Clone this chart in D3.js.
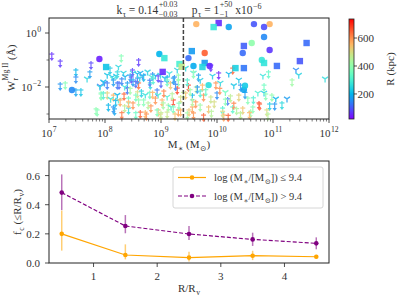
<!DOCTYPE html>
<html lang="en">
<head>
<meta charset="UTF-8">
<script src="https://d3js.org/d3.v7.min.js"></script>
<style>
  body { margin: 0; background: #fff; }
  text { font-family: "Liberation Serif", "DejaVu Serif", serif; fill: #333; white-space: pre; }
</style>
</head>
<body>
<svg width="399" height="299"></svg>
<script>
// detections: log stellar mass, log W, R (kpc), shape (c = circle, s = square)
const detM = [7.90, 8.02, 7.41, 8.97, 9.06, 9.03, 9.33, 9.37, 9.49, 9.63, 9.55, 10.03, 9.94, 10.21, 10.66, 10.94, 10.84, 10.84,
  10.48, 10.62, 10.46, 10.94, 11.60, 11.48, 11.07, 10.80, 10.84, 9.78, 9.78, 9.87, 9.74, 10.33, 10.48, 10.48, 9.58, 9.85, 10.50];
const detW = [-0.96, -1.26, -2.11, -0.78, -0.93, -1.44, -1.15, -1.25, -0.93, 0.33, -0.67, 0.37, 0.22, 0.22, 0.33, 0.33, 0.22, -0.15,
  -0.48, -0.37, -0.74, -0.63, -0.37, -1.04, -1.22, -1.00, -1.11, -0.74, -1.11, -1.22, -1.26, -1.30, -1.30, -2.10, -1.22, -1.93, -1.95];
const detR = [50, 220, 150, 200, 280, 60, 300, 480, 120, 560, 170, 60, 280, 180, 100, 560, 90, 150,
  110, 400, 120, 70, 120, 100, 120, 280, 270, 650, 170, 60, 250, 240, 130, 180, 190, 260, 230];
const detShape = ['c', 's', 'c', 'c', 's', 's', 's', 's', 'c', 'c', 's', 's', 's', 'c', 'c', 'c', 'c', 'c',
  's', 'c', 'c', 'c', 's', 's', 's', 'c', 's', 'c', 's', 'c', 's', 's', 's', 'c', 'c', 'c', 'c'];

// upper limits: a = arrow, y = tri marker
const limM = [8.24, 8.20, 7.99, 8.22, 8.25, 8.40, 8.13, 8.47, 8.50, 8.58, 8.60, 8.67, 8.85, 8.90, 8.95, 9.11, 9.29, 9.24, 9.31,
  7.93, 8.04, 8.15, 8.34, 8.24, 8.42, 8.50, 8.60, 8.72, 8.77, 8.90, 9.02, 9.22, 9.35, 8.17, 8.42, 8.72, 8.95, 9.11, 9.31, 7.86, 8.06,
  8.63, 8.74, 8.99, 9.13, 9.18, 8.60, 8.29,
  7.05, 7.20, 7.75, 7.48, 7.48, 7.68, 7.73, 7.20, 7.29, 7.48, 7.57, 7.84, 7.93, 7.91, 7.97, 8.15, 8.15, 8.19,
  9.89, 10.03, 10.28, 10.21, 9.58, 9.67, 9.92, 9.49, 9.63, 9.74, 9.98, 10.06, 10.39, 10.42, 10.73, 10.84, 10.84,
  9.44, 9.56, 9.76, 9.89, 10.00, 10.19, 10.24, 10.39, 10.55, 10.75, 9.56, 9.70, 9.85, 10.10, 10.28, 10.46, 10.64,
  9.58, 9.76, 10.12, 10.42,
  11.41, 10.82, 10.92, 11.46, 11.34, 11.93, 10.87, 10.98, 11.05, 11.03, 11.25, 11.16, 10.94, 10.89, 10.91, 10.76,
  9.44, 9.58, 9.47, 9.65, 9.56, 9.35, 9.47, 9.22, 9.29, 9.17, 9.11, 9.04, 8.93, 8.93, 8.81, 8.76, 8.63, 8.50, 8.40,
  8.58, 8.69, 8.42, 8.27, 8.22, 8.15, 8.04, 8.09, 8.22, 8.33, 8.49, 8.45, 8.58, 8.69, 8.86, 8.99, 9.11, 9.22, 9.31,
  7.91, 8.04, 7.97, 10.10, 10.30, 10.60, 10.15, 9.70, 9.40, 8.80, 8.35,
  8.30, 8.36, 8.55, 8.62, 8.80, 8.83, 9.00, 9.07, 9.15, 9.26, 8.45, 8.55, 8.65, 8.85, 8.95, 9.05, 9.20, 9.32, 8.35, 8.55,
  8.82, 9.00, 9.25, 8.10, 8.30, 9.52, 9.62, 9.70, 9.80, 9.95, 10.05, 10.15, 10.30, 10.35, 10.50, 10.58, 10.65, 9.50, 9.90, 10.20];
const limW = [-1.26, -1.59, -1.85, -1.85, -1.85, -1.85, -1.63, -1.63, -1.48, -1.52, -1.85, -1.59, -1.52, -1.59, -1.59, -1.63, -1.37, -1.63, -1.74,
  -2.22, -2.22, -2.30, -2.26, -2.48, -2.41, -2.59, -2.48, -2.30, -2.59, -2.41, -2.48, -2.48, -2.37, -2.81, -2.78, -2.93, -2.85, -2.93, -2.85, -2.85, -2.67,
  -2.93, -3.00, -3.00, -2.67, -2.75, -1.00, -0.85,
  -0.78, -1.04, -1.11, -1.37, -1.63, -1.70, -1.44, -1.89, -1.85, -2.11, -2.11, -2.81, -2.26, -1.96, -1.81, -1.70, -2.74, -2.50,
  -1.19, -1.48, -1.30, -1.52, -1.48, -1.56, -1.59, -1.93, -2.00, -1.93, -1.85, -1.85, -1.74, -1.93, -2.22, -2.22, -1.93,
  -2.22, -2.30, -2.30, -2.37, -2.22, -2.44, -2.33, -2.30, -2.41, -2.59, -2.74, -2.67, -2.74, -2.78, -2.74, -2.78, -2.74,
  -2.96, -3.04, -3.04, -2.96,
  -1.37, -1.59, -1.44, -1.56, -1.74, -1.70, -2.26, -2.30, -2.44, -2.63, -2.44, -2.59, -2.63, -2.85, -3.00, -2.63,
  -1.30, -1.44, -1.74, -2.00, -2.48, -2.85, -2.96, -2.74, -2.04, -1.85, -2.37, -2.59, -2.85, -2.11, -1.85, -1.44, -1.48, -1.74, -2.04,
  -2.18, -2.48, -2.55, -2.48, -2.30, -1.74, -1.56, -1.30, -1.44, -1.48, -1.37, -1.56, -1.67, -1.56, -1.67, -1.56, -1.74, -1.67, -1.56,
  -2.00, -1.85, -2.22, -2.90, -2.60, -2.90, -2.20, -2.15, -2.20, -2.20, -2.00,
  -1.70, -1.62, -1.80, -1.68, -1.75, -1.62, -1.80, -1.68, -1.50, -1.90, -2.05, -2.30, -2.15, -2.20, -2.30, -2.15, -2.25, -2.60, -2.70, -2.95,
  -2.70, -2.95, -3.00, -2.45, -2.95, -2.10, -2.55, -1.75, -2.10, -2.55, -2.05, -2.45, -1.95, -2.80, -2.20, -2.95, -2.40, -2.85, -2.90, -3.05];
const limR = [250, 230, 150, 130, 110, 170, 220, 80, 260, 200, 640, 120, 150, 200, 70, 180, 240, 150, 400,
  380, 520, 560, 650, 300, 330, 600, 400, 270, 450, 600, 560, 680, 500, 180, 260, 560, 550, 480, 600, 380, 200,
  650, 600, 520, 420, 280, 70, 380,
  60, 70, 80, 200, 150, 250, 170, 160, 380, 180, 220, 390, 380, 130, 200, 270, 160, 200,
  60, 50, 650, 200, 260, 170, 230, 680, 450, 560, 600, 250, 220, 160, 300, 230, 350,
  550, 200, 600, 480, 150, 120, 460, 520, 380, 680, 580, 420, 540, 300, 320, 540, 380,
  600, 650, 580, 460,
  150, 270, 330, 240, 420, 260, 380, 400, 200, 160, 170, 250, 230, 500, 450, 660,
  250, 380, 300, 160, 450, 560, 420, 360, 680, 540, 300, 430, 370, 130, 250, 240, 190, 170, 120,
  500, 380, 560, 580, 200, 170, 220, 230, 250, 240, 80, 160, 150, 200, 300, 250, 350, 170, 400,
  230, 130, 300, 500, 620, 420, 350, 300, 470, 330, 280,
  140, 190, 110, 230, 130, 280, 100, 210, 260, 140, 420, 360, 240, 560, 300, 620, 450, 380, 470, 340,
  600, 470, 540, 280, 630, 420, 600, 230, 330, 500, 610, 380, 220, 440, 170, 560, 300, 530, 450, 650];
const limShape = ['y', 'y', 'y', 'a', 'a', 'a', 'y', 'a', 'y', 'y', 'a', 'y', 'a', 'y', 'a', 'a', 'y', 'a', 'a',
  'a', 'a', 'a', 'a', 'y', 'a', 'a', 'a', 'y', 'a', 'a', 'a', 'a', 'a', 'a', 'a', 'a', 'a', 'a', 'a', 'a', 'a',
  'a', 'a', 'a', 'a', 'y', 'a', 'a',
  'a', 'a', 'a', 'a', 'a', 'y', 'a', 'a', 'a', 'a', 'a', 'a', 'a', 'y', 'y', 'y', 'a', 'a',
  'a', 'a', 'a', 'y', 'y', 'a', 'y', 'a', 'a', 'a', 'a', 'y', 'y', 'a', 'y', 'y', 'a',
  'a', 'a', 'a', 'a', 'a', 'a', 'a', 'a', 'a', 'a', 'a', 'a', 'a', 'a', 'a', 'a', 'a',
  'a', 'a', 'a', 'a',
  'y', 'y', 'a', 'y', 'a', 'y', 'a', 'a', 'y', 'a', 'y', 'a', 'a', 'a', 'a', 'a',
  'y', 'a', 'a', 'a', 'a', 'a', 'a', 'a', 'a', 'a', 'y', 'a', 'a', 'a', 'a', 'y', 'y', 'a', 'a',
  'a', 'a', 'a', 'a', 'y', 'a', 'y', 'a', 'a', 'y', 'a', 'a', 'a', 'a', 'a', 'y', 'a', 'a', 'a',
  'y', 'a', 'a', 'a', 'a', 'a', 'y', 'a', 'a', 'a', 'y',
  'a', 'y', 'a', 'y', 'a', 'y', 'a', 'y', 'y', 'a', 'a', 'a', 'a', 'a', 'y', 'a', 'a', 'a', 'a', 'a',
  'a', 'a', 'a', 'y', 'a', 'a', 'a', 'y', 'a', 'a', 'a', 'a', 'y', 'a', 'a', 'a', 'a', 'a', 'a', 'a'];

const xTicksTop = [7, 8, 9, 10, 11, 12];
const yTicksTop = [0, -2];
const cbTicks = [200, 400, 600];
const massCut = 9.4;

// covering fraction panel
const rBins = [0.5, 1.5, 2.5, 3.5, 4.5];
const fLow = [0.20, 0.055, 0.037, 0.050, 0.043];
const fLowLo = [0.085, 0.025, 0.010, 0.020, 0.030];
const fLowHi = [0.36, 0.128, 0.078, 0.084, 0.056];
const fHigh = [0.483, 0.254, 0.199, 0.162, 0.135];
const fHighLo = [0.363, 0.204, 0.158, 0.117, 0.094];
const fHighHi = [0.608, 0.329, 0.254, 0.208, 0.176];
const xTicksBot = [1, 2, 3, 4];
const yTicksBot = [0, 0.2, 0.4, 0.6];

const svg = d3.select('svg');
const ink = '#222';

// matplotlib "rainbow"
function rainbow(t) {
  const r = Math.min(1, Math.abs(2 * t - 0.5)), g = Math.sin(Math.PI * t), b = Math.cos(Math.PI * t / 2);
  return d3.rgb(r * 255, Math.max(0, g) * 255, Math.max(0, b) * 255).formatHex();
}
const cNorm = d3.scaleLinear().domain([21, 736]).range([0, 1]).clamp(true);
const color = v => rainbow(cNorm(v));

// text with sub/superscripts
function rich(parent, x, y, parts, o = {}) {
  const size = o.size || 10, anchor = o.anchor || 'start';
  const g = parent.append('g').attr('transform', `translate(${x},${y}) rotate(${o.rotate || 0})`);
  const inner = g.append('g');
  let cx = 0;
  parts.forEach(p => {
    if (typeof p === 'string') p = { t: p };
    if (p.sup !== undefined || p.sub !== undefined) {
      const both = p.sup !== undefined && p.sub !== undefined;
      let w = 0;
      if (p.sup !== undefined) {
        const t = inner.append('text').attr('x', cx + 0.5).attr('y', -size * (both ? 0.62 : 0.45))
          .attr('font-size', size * 0.7).text(p.sup);
        w = Math.max(w, t.node().getComputedTextLength() + 0.5);
      }
      if (p.sub !== undefined) {
        const t = inner.append('text').attr('x', cx + 0.5).attr('y', size * 0.3).attr('font-size', size * 0.7).text(p.sub);
        w = Math.max(w, t.node().getComputedTextLength() + 0.5);
      }
      cx += w;
    } else {
      const t = inner.append('text').attr('x', cx).attr('font-size', size).text(p.t);
      cx += t.node().getComputedTextLength();
    }
  });
  const dx = anchor === 'middle' ? -cx / 2 : anchor === 'end' ? -cx : 0;
  inner.attr('transform', `translate(${dx},0)`);
}

// ---------- top panel ----------
const x = d3.scaleLog().domain([1e7, 1e12]).range([49, 329]);
const y = d3.scaleLog().domain([Math.pow(10, -3.185), Math.pow(10, 0.556)]).range([119, 18]);
const topG = svg.append('g');

// minor ticks
const minorX = [];
for (let d = 7; d < 12; d++) for (let k = 2; k < 10; k++) minorX.push(k * Math.pow(10, d));
topG.selectAll('.mx').data(minorX).enter().append('line')
  .attr('x1', d => x(d)).attr('x2', d => x(d)).attr('y1', 119).attr('y2', 121.5)
  .attr('stroke', ink).attr('stroke-width', 0.6);
topG.selectAll('.my').data([-1, -3]).enter().append('line')
  .attr('x1', 49).attr('x2', 46.5).attr('y1', d => y(Math.pow(10, d))).attr('y2', d => y(Math.pow(10, d)))
  .attr('stroke', ink).attr('stroke-width', 0.6);
topG.selectAll('.tx').data(xTicksTop).enter().append('line')
  .attr('x1', d => x(Math.pow(10, d))).attr('x2', d => x(Math.pow(10, d))).attr('y1', 119).attr('y2', 123)
  .attr('stroke', ink).attr('stroke-width', 0.8);
topG.selectAll('.ty').data(yTicksTop).enter().append('line')
  .attr('x1', 49).attr('x2', 45).attr('y1', d => y(Math.pow(10, d))).attr('y2', d => y(Math.pow(10, d)))
  .attr('stroke', ink).attr('stroke-width', 0.8);
xTicksTop.forEach(d => rich(topG, x(Math.pow(10, d)), 137, ['10', { sup: String(d) }], { anchor: 'middle', size: 11 }));
yTicksTop.forEach(d => rich(topG, 41, y(Math.pow(10, d)) + 4, ['10', { sup: d < 0 ? '−' + (-d) : String(d) }], { anchor: 'end', size: 11 }));

// limits
const limG = topG.append('g').attr('opacity', 0.8);
d3.range(limM.length).forEach(i => {
  const px = x(Math.pow(10, limM[i])), py = y(Math.pow(10, limW[i])), c = color(limR[i]);
  if (limShape[i] === 'a') {
    limG.append('line').attr('x1', px - 2.5).attr('x2', px + 2.5).attr('y1', py).attr('y2', py)
      .attr('stroke', c).attr('stroke-width', 1.2);
    limG.append('line').attr('x1', px).attr('x2', px).attr('y1', py - 2).attr('y2', py + 5)
      .attr('stroke', c).attr('stroke-width', 1.2);
    limG.append('path').attr('d', `M${px - 2.2},${py + 4}L${px + 2.2},${py + 4}L${px},${py + 7}Z`).attr('fill', c);
  } else {
    limG.append('path')
      .attr('d', `M${px},${py}L${px},${py + 3.5}M${px},${py}L${px - 3},${py - 2}M${px},${py}L${px + 3},${py - 2}`)
      .attr('stroke', c).attr('stroke-width', 1.3).attr('fill', 'none');
  }
});

// detections
d3.range(detM.length).forEach(i => {
  const px = x(Math.pow(10, detM[i])), py = y(Math.pow(10, detW[i])), c = color(detR[i]);
  if (detShape[i] === 'c') {
    topG.append('circle').attr('cx', px).attr('cy', py).attr('r', 3.2).attr('fill', c).attr('fill-opacity', 0.9);
  } else {
    topG.append('rect').attr('x', px - 3.2).attr('y', py - 3.2).attr('width', 6.4).attr('height', 6.4).attr('fill', c).attr('fill-opacity', 0.9);
  }
});

// mass cut
topG.append('line').attr('x1', x(Math.pow(10, massCut))).attr('x2', x(Math.pow(10, massCut)))
  .attr('y1', 18).attr('y2', 119).attr('stroke', '#444').attr('stroke-width', 1.5).attr('stroke-dasharray', '4,2');

topG.append('rect').attr('x', 49).attr('y', 18).attr('width', 280).attr('height', 101)
  .attr('fill', 'none').attr('stroke', ink).attr('stroke-width', 1);

rich(topG, 189, 14, ['k', { sub: 'τ' }, ' = 0.14', { sup: '+0.03', sub: '−0.03' }, '     p', { sub: 'τ' }, ' = 1', { sup: '+50', sub: '−1' }, ' x10', { sup: '−6' }], { anchor: 'middle', size: 11.5 });
rich(topG, 189, 148, ['M', { sub: '∗' }, ' (M', { sub: '⊙' }, ')'], { anchor: 'middle', size: 11 });
rich(topG, 15, 68, ['W', { sup: 'Mg II', sub: 'r' }, ' (Å)'], { anchor: 'middle', size: 11, rotate: -90 });

// colorbar
const defs = svg.append('defs');
const grad = defs.append('linearGradient').attr('id', 'cb').attr('x1', 0).attr('x2', 0).attr('y1', 1).attr('y2', 0);
d3.range(0, 1.0001, 0.05).forEach(t => grad.append('stop').attr('offset', t).attr('stop-color', rainbow(t)));
const cy = d3.scaleLinear().domain([21, 736]).range([119, 19]);
svg.append('rect').attr('x', 349).attr('y', 19).attr('width', 5).attr('height', 100).attr('fill', 'url(#cb)')
  .attr('stroke', ink).attr('stroke-width', 0.8);
cbTicks.forEach(v => {
  svg.append('line').attr('x1', 354).attr('x2', 357).attr('y1', cy(v)).attr('y2', cy(v)).attr('stroke', ink).attr('stroke-width', 0.8);
  svg.append('text').attr('x', 357.5).attr('y', cy(v) + 4).attr('font-size', 11).text(v);
});
rich(svg, 394, 69, ['R (kpc)'], { anchor: 'middle', size: 11, rotate: -90 });

// ---------- bottom panel ----------
const xb = d3.scaleLinear().domain([0.3, 4.7]).range([49, 329]);
const yb = d3.scaleLinear().domain([0, 0.7]).range([263, 161]);
const bot = svg.append('g');
bot.selectAll('.bx').data(xTicksBot).enter().append('line')
  .attr('x1', d => xb(d)).attr('x2', d => xb(d)).attr('y1', 263).attr('y2', 267).attr('stroke', ink).attr('stroke-width', 0.8);
bot.selectAll('.bxl').data(xTicksBot).enter().append('text')
  .attr('x', d => xb(d)).attr('y', 280).attr('text-anchor', 'middle').attr('font-size', 11).text(d => d);
bot.selectAll('.by').data(yTicksBot).enter().append('line')
  .attr('x1', 49).attr('x2', 45).attr('y1', d => yb(d)).attr('y2', d => yb(d)).attr('stroke', ink).attr('stroke-width', 0.8);
bot.selectAll('.byl').data(yTicksBot).enter().append('text')
  .attr('x', 40).attr('y', d => yb(d) + 4).attr('text-anchor', 'end').attr('font-size', 11).text(d => d.toFixed(1));

function series(vals, lo, hi, col, dash) {
  const g = bot.append('g');
  rBins.forEach((r, i) => {
    g.append('line').attr('x1', xb(r)).attr('x2', xb(r)).attr('y1', yb(lo[i])).attr('y2', yb(hi[i]))
      .attr('stroke', col).attr('stroke-width', 1.5).attr('stroke-opacity', 0.55);
  });
  g.append('path').datum(rBins.map((r, i) => [r, vals[i]]))
    .attr('d', d3.line().x(d => xb(d[0])).y(d => yb(d[1])))
    .attr('fill', 'none').attr('stroke', col).attr('stroke-width', 1.2).attr('stroke-dasharray', dash);
  g.selectAll('circle').data(rBins).enter().append('circle')
    .attr('cx', d => xb(d)).attr('cy', (d, i) => yb(vals[i])).attr('r', 2.3).attr('fill', col);
}
series(fLow, fLowLo, fLowHi, '#FFA500', null);
series(fHigh, fHighLo, fHighHi, '#800080', '4,2');

bot.append('rect').attr('x', 49).attr('y', 161).attr('width', 280).attr('height', 102)
  .attr('fill', 'none').attr('stroke', ink).attr('stroke-width', 1);

// legend
const leg = bot.append('g');
leg.append('rect').attr('x', 173).attr('y', 167).attr('width', 150).attr('height', 41).attr('rx', 2)
  .attr('fill', '#fff').attr('fill-opacity', 0.8).attr('stroke', '#ccc').attr('stroke-width', 0.8);
[['#FFA500', null, '≤', 177.5], ['#800080', '4,2', '>', 196]].forEach(([col, dash, op, ly]) => {
  leg.append('line').attr('x1', 178).attr('x2', 206).attr('y1', ly).attr('y2', ly)
    .attr('stroke', col).attr('stroke-width', 1.2).attr('stroke-dasharray', dash);
  leg.append('circle').attr('cx', 192).attr('cy', ly).attr('r', 2.3).attr('fill', col);
  rich(leg, 214, ly + 3.5, ['log (M', { sub: '∗' }, '/[M', { sub: '⊙' }, ']) ' + op + ' 9.4'], { size: 10.5 });
});

rich(bot, 189, 292, ['R/R', { sub: 'v' }], { anchor: 'middle', size: 11 });
rich(bot, 21, 212, ['f', { sub: 'c' }, ' (≤R/R', { sub: 'v' }, ')'], { anchor: 'middle', size: 11, rotate: -90 });
</script>
</body>
</html>
